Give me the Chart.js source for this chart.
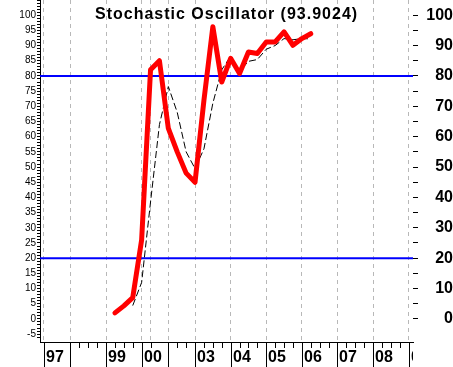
<!DOCTYPE html>
<html>
<head>
<meta charset="utf-8">
<title>Stochastic Oscillator</title>
<script src="https://cdn.jsdelivr.net/npm/chart.js@4.4.1/dist/chart.umd.min.js"></script>
<style>
  html, body { margin: 0; padding: 0; background: #fff; }
  #stoch { display: block; }
</style>
</head>
<body>
<canvas id="stoch" width="453" height="367"></canvas>
<script>
// x is a quarter index: 0 = start of '97, one unit per quarter
const quarters = [8, 9, 10, 11, 12, 13, 14, 15, 16, 17, 18, 19, 20, 21, 22, 23, 24, 25, 26, 27, 28, 29, 30];
const kValues = [2, 4.3, 7, 26, 82, 85, 62.7, 55, 48, 45, 72, 96.2, 78, 85.8, 80.8, 87.9, 87.4, 91.2, 91.2, 94.5, 90.1, 92.3, 93.9];
const dValues = [null, null, 4.4, 12, 38.5, 64, 76.5, 68, 55, 49.5, 56, 71, 82, 86.5, 81.5, 84.8, 85.4, 88.8, 90, 92.3, 91.9, 92.3, 92.2];

const yearStarts = [0, 3, 7, 11, 14, 17, 21, 25, 29, 33, 37, 41];
const yearLabels = ['97', '', '99', '00', '', '03', '04', '05', '06', '07', '08', '09'];
const extraGrid = [12];
const quarterTicks = [4, 5, 6, 8, 9, 10, 12, 15, 16, 18, 19, 20, 22, 23, 24, 26, 27, 28, 30, 31, 32, 34, 35, 36, 38, 39, 40];

const overbought = 80;
const oversold = 20;
const titleText = 'Stochastic Oscillator (93.9024)';

const xMin = -0.42, xMax = 41.49;
const yMin = -7.6, yMax = 105;

function pts(xs, ys) {
    return xs.map((x, i) => ({x: x, y: ys[i]})).filter(p => p.y !== null);
}

function levelLine(v) {
    return {
        data: [{x: xMin, y: v}, {x: xMax, y: v}],
        borderColor: '#0000ff',
        borderWidth: 2,
        pointRadius: 0
    };
}

// year ticks, quarter ticks, year labels and the title
const decor = {
    id: 'decor',
    afterDraw(chart) {
        const {ctx, chartArea} = chart;
        const x = chart.scales.x;
        ctx.save();
        ctx.strokeStyle = '#000';
        ctx.lineWidth = 1;
        ctx.beginPath();
        yearStarts.forEach(v => {
            const px = Math.round(x.getPixelForValue(v)) + 0.5;
            ctx.moveTo(px, chartArea.bottom);
            ctx.lineTo(px, chart.height);
        });
        quarterTicks.forEach(v => {
            const px = Math.round(x.getPixelForValue(v)) + 0.5;
            ctx.moveTo(px, chartArea.bottom);
            ctx.lineTo(px, chartArea.bottom + 6);
        });
        ctx.stroke();

        ctx.beginPath();
        ctx.rect(0, chartArea.bottom, chartArea.right, chart.height - chartArea.bottom);
        ctx.clip();
        ctx.fillStyle = '#000';
        ctx.font = 'bold 16px Arial, "Liberation Sans", sans-serif';
        ctx.textBaseline = 'middle';
        ctx.textAlign = 'left';
        yearStarts.forEach((v, i) => {
            const px = Math.round(x.getPixelForValue(v));
            ctx.fillText(yearLabels[i], px + 2, chartArea.bottom + 16);
        });
        ctx.restore();

        ctx.save();
        ctx.fillStyle = '#000';
        ctx.font = 'bold 16px Arial, "Liberation Sans", sans-serif';
        ctx.letterSpacing = '1px';
        ctx.textBaseline = 'alphabetic';
        ctx.fillText(titleText, 95, 18.5);
        ctx.restore();
    }
};

const fontFamily = 'Arial, "Liberation Sans", sans-serif';

new Chart(document.getElementById('stoch'), {
    type: 'line',
    data: {
        datasets: [
            {
                data: pts(quarters, kValues),
                borderColor: '#ff0000',
                borderWidth: 5,
                borderJoinStyle: 'round',
                borderCapStyle: 'round',
                pointRadius: 0
            },
            {
                data: pts(quarters, dValues),
                borderColor: '#000',
                borderWidth: 1,
                borderDash: [7, 3],
                pointRadius: 0
            },
            levelLine(overbought),
            levelLine(oversold)
        ]
    },
    options: {
        responsive: false,
        animation: false,
        layout: {padding: 0, autoPadding: false},
        plugins: {legend: {display: false}, tooltip: {enabled: false}},
        scales: {
            x: {
                type: 'linear',
                min: xMin,
                max: xMax,
                afterBuildTicks: s => {
                    s.ticks = yearStarts.concat(extraGrid).map(v => ({value: v}));
                },
                afterFit: s => {
                    s.height = 25;
                    s.paddingLeft = 0;
                    s.paddingRight = 0;
                },
                ticks: {display: false},
                grid: {color: '#b8b8b8', lineWidth: 1, drawTicks: false},
                border: {display: true, color: '#000', width: 1, dash: [4, 4]}
            },
            y: {
                position: 'left',
                min: yMin,
                max: yMax,
                afterFit: s => {
                    s.width = 40;
                    s.paddingTop = 0;
                    s.paddingBottom = 0;
                },
                ticks: {
                    stepSize: 1,
                    autoSkip: false,
                    padding: 1,
                    color: '#000',
                    font: {family: fontFamily, size: 10},
                    callback: v => (Number.isInteger(v) && v % 5 === 0 && v >= -5 && v <= 100) ? String(v) : ''
                },
                grid: {
                    drawOnChartArea: false,
                    tickLength: 3,
                    tickColor: c => Number.isInteger(c.tick.value) ? '#000' : 'rgba(0,0,0,0)'
                },
                border: {display: true, color: '#000', width: 1}
            },
            y2: {
                position: 'right',
                min: yMin,
                max: yMax,
                afterFit: s => {
                    s.width = 40;
                    s.paddingTop = 0;
                    s.paddingBottom = 0;
                },
                ticks: {
                    stepSize: 5,
                    autoSkip: false,
                    padding: 6,
                    crossAlign: 'far',
                    color: '#000',
                    font: {family: fontFamily, size: 16, weight: 'bold'},
                    callback: v => (Number.isInteger(v) && v % 10 === 0 && v >= 0 && v <= 100) ? String(v) : ''
                },
                grid: {
                    drawOnChartArea: false,
                    tickLength: 5,
                    tickColor: c => (Number.isInteger(c.tick.value) && c.tick.value % 5 === 0 && c.tick.value <= 100) ? '#000' : 'rgba(0,0,0,0)'
                },
                border: {display: false}
            }
        }
    },
    plugins: [decor]
});
</script>
</body>
</html>
